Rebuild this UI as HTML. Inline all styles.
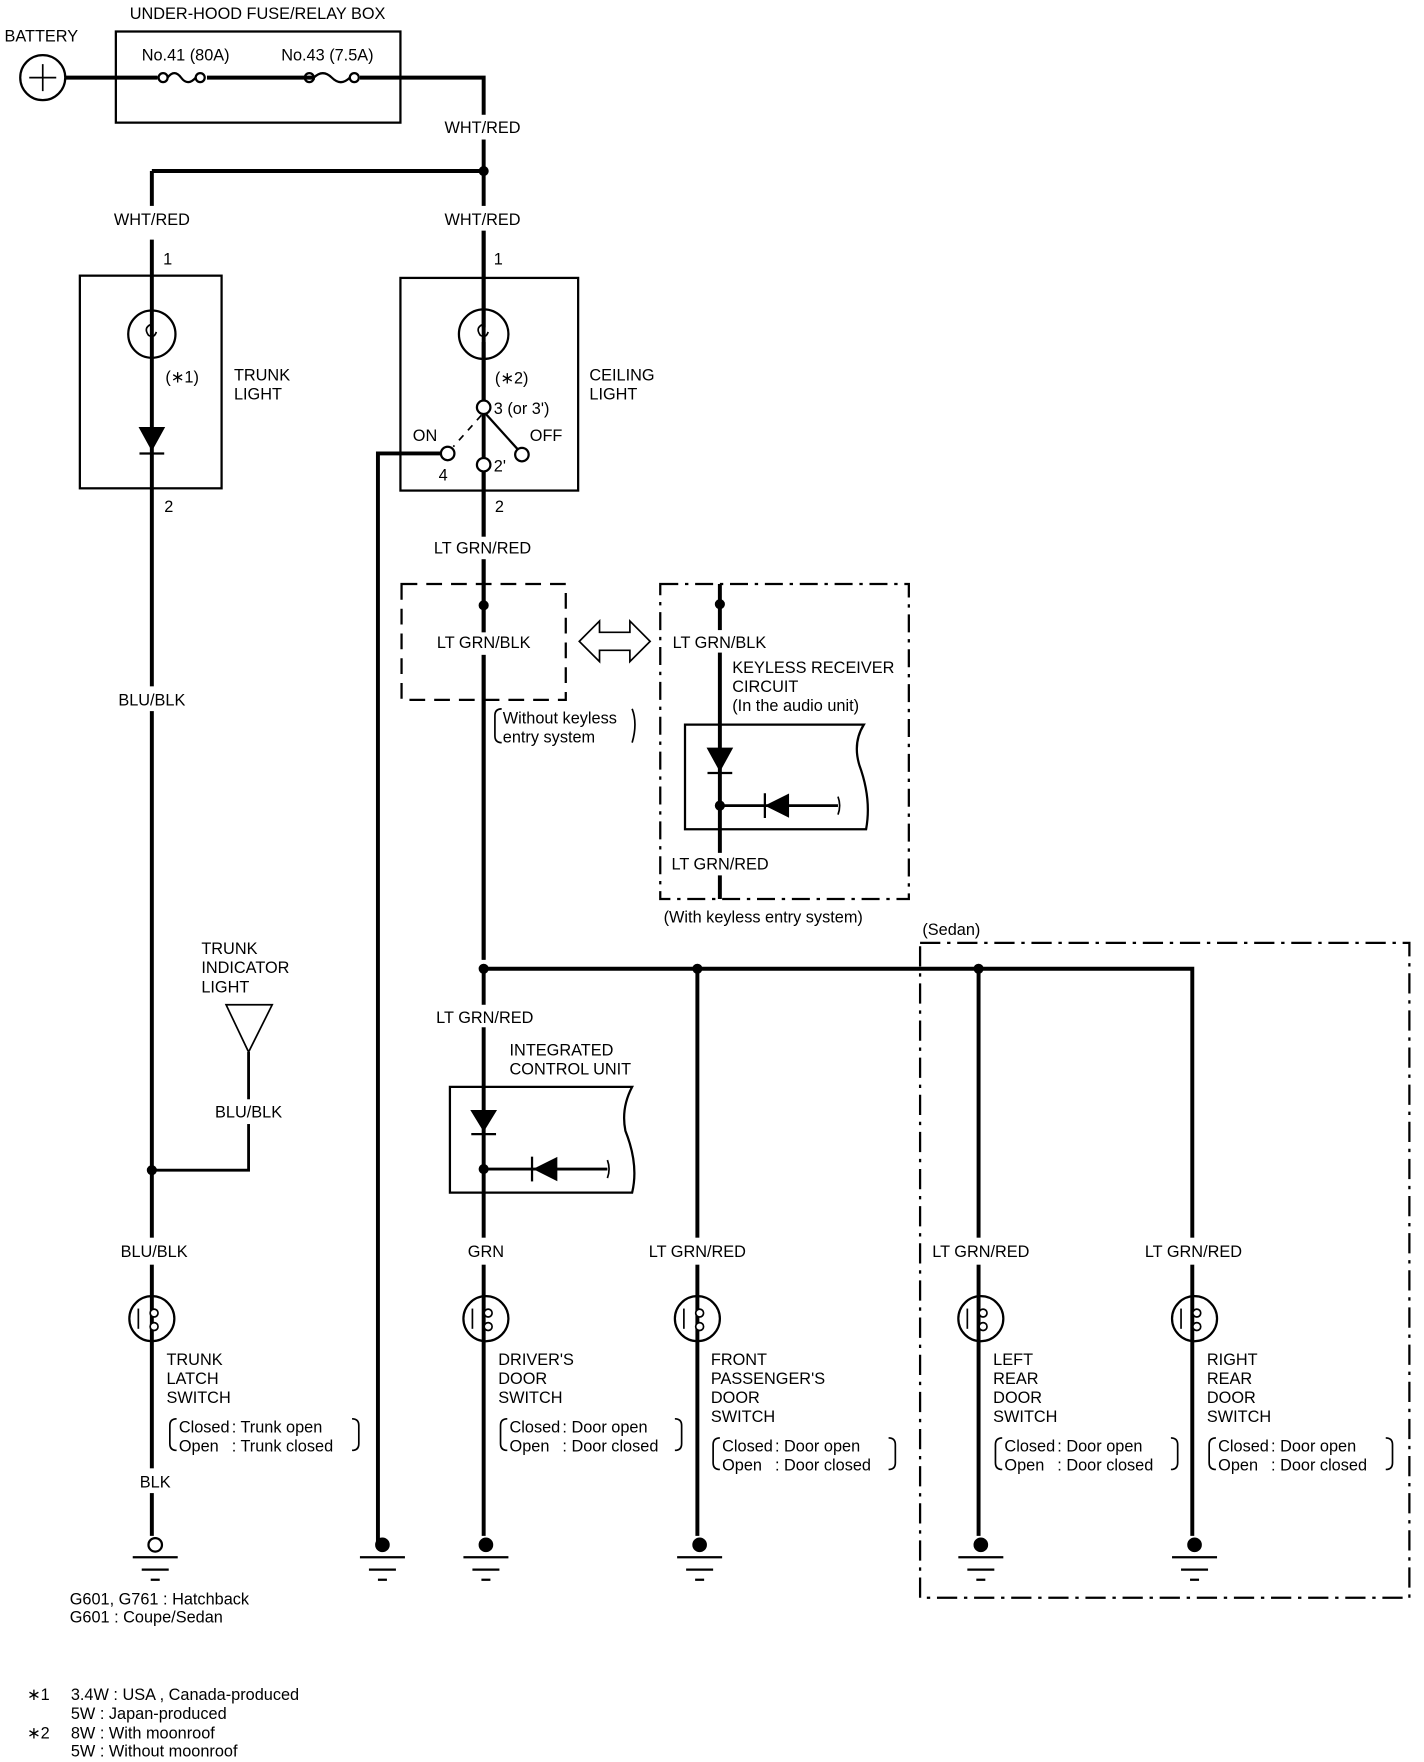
<!DOCTYPE html>
<html><head><meta charset="utf-8"><style>
html,body{margin:0;padding:0;background:#fff;}
svg{display:block;}
text{font-family:"Liberation Sans",sans-serif;font-size:14.5px;fill:#000;}
</style></head><body>
<svg width="1424" height="1762" viewBox="0 0 1266 1566" preserveAspectRatio="none" xmlns="http://www.w3.org/2000/svg">
<g stroke="#000" fill="none" stroke-width="2">
<circle cx="38" cy="69" r="20" stroke-width="2"/>
<path d="M26 69H50M38 57V81" stroke-width="1.5"/>
<rect x="103" y="28" width="253" height="81" stroke-width="2"/>
<path d="M58 69H140M184 69H280M320 69H430V853" stroke-width="3.5"/>
<circle cx="145" cy="69" r="4"/><circle cx="178" cy="69" r="4"/>
<path d="M149 69Q155 61 161 69T174 69"/>
<circle cx="275" cy="69" r="4"/><circle cx="315" cy="69" r="4"/>
<path d="M279 69Q287 61 295 69T311 69"/>
<path d="M135 152H430M135 152V200M135 213V1365" stroke-width="3.5"/>
<rect x="71" y="245" width="126" height="189" stroke-width="2"/>
<circle cx="135" cy="297" r="21"/>
<path d="M135 288q-8 3 -3 10q5 3 7 -3" stroke-width="1.5"/>
<rect x="356" y="247" width="158" height="189" stroke-width="2"/>
<path d="M430 200V291M430 304V356M430 418V853" stroke-width="3.5"/>
<circle cx="430" cy="297" r="22"/>
<path d="M430 288q-8 3 -3 10q5 3 7 -3" stroke-width="1.5"/>
<circle cx="430" cy="362" r="6" fill="#fff"/>
<circle cx="398" cy="403" r="6" fill="#fff"/>
<circle cx="430" cy="413" r="6" fill="#fff"/>
<circle cx="464" cy="404" r="6" fill="#fff"/>
<path d="M432 368L460 399"/>
<path d="M428 369L403 397M430 372V407" stroke-dasharray="6 6" stroke-width="1.5"/>
<path d="M392 403H336V1370" stroke-width="3.5"/>
<path d="M357 519H503V622H357Z" stroke-dasharray="14 8" stroke-width="2"/>
<path d="M515 570L533 552V562H560V552L578 570L560 588V578H533V588Z" stroke-width="1.5"/>
<path d="M587 519H808V799H587Z" stroke-dasharray="16 6 3 6" stroke-width="2"/>
<path d="M640 519V799" stroke-width="3.5"/>
<path d="M609 644H768Q758 660 764 680Q775 710 770 737H609Z" stroke-width="2"/>
<path d="M640 716H745" stroke-width="2.5"/>
<path d="M745 708q3 8 0 16" stroke-width="1.5"/>
<path d="M430 861H1060V1365M620 861V1365M870 861V1365" stroke-width="3.5"/>
<path d="M430 861V1365" stroke-width="3.5"/>
<path d="M818 838H1253V1420H818Z" stroke-dasharray="18 6 3 6" stroke-width="2"/>
<path d="M201 893H242L221 935Z" stroke-width="1.5"/>
<path d="M221 935V980M221 998V1040H135" stroke-width="2.5"/>
<path d="M400 966H562Q552 985 556 1005Q568 1035 562 1060H400Z" stroke-width="2"/>
<path d="M430 1039H540" stroke-width="2.5"/>
<path d="M540 1031q3 8 0 16" stroke-width="1.5"/>
<g stroke-width="2">
<circle cx="135" cy="1172" r="20"/><circle cx="432" cy="1172" r="20"/><circle cx="620" cy="1172" r="20"/><circle cx="872" cy="1172" r="20"/><circle cx="1062" cy="1172" r="20"/>
</g>
<g stroke-width="2">
<path d="M118 1384H158M126 1395H150M134 1404H142"/>
<path d="M320 1384H360M328 1395H352M336 1404H344"/>
<path d="M412 1384H452M420 1395H444M428 1404H436"/>
<path d="M602 1384H642M610 1395H634M618 1404H626"/>
<path d="M852 1384H892M860 1395H884M868 1404H876"/>
<path d="M1042 1384H1082M1050 1395H1074M1058 1404H1066"/>
</g>
<circle cx="138" cy="1373" r="6" fill="#fff"/>
</g>
<g fill="#fff">
<rect x="95" y="183" width="80" height="22"/>
<rect x="390" y="183" width="80" height="22"/>
<rect x="390" y="102" width="80" height="22"/>
<rect x="380" y="477" width="100" height="20"/>
<rect x="380" y="893" width="100" height="20"/>
<rect x="100" y="610" width="70" height="22"/>
<rect x="185" y="977" width="72" height="22"/>
<rect x="100" y="1100" width="75" height="24"/>
<rect x="410" y="1100" width="45" height="24"/>
<rect x="570" y="1100" width="100" height="24"/>
<rect x="822" y="1100" width="100" height="24"/>
<rect x="1012" y="1100" width="100" height="24"/>
<rect x="118" y="1305" width="40" height="22"/>
<rect x="395" y="562" width="72" height="20"/>
<rect x="595" y="560" width="92" height="20"/>
<rect x="595" y="758" width="95" height="20"/>
</g>
<g fill="#000" stroke="#000">
<path d="M124 380H146L135 400Z"/><path d="M124 403H146" stroke-width="2"/>
<path d="M629 665H651L640 685Z"/><path d="M629 687H651" stroke-width="2"/>
<path d="M701 706V726L681 716Z"/><path d="M680 705V727" stroke-width="2"/>
<path d="M419 987H441L430 1005Z"/><path d="M419 1008H441" stroke-width="2"/>
<path d="M495 1029V1049L475 1039Z"/><path d="M473 1028V1050" stroke-width="2"/>
<circle cx="430" cy="152" r="4"/><circle cx="430" cy="538" r="4"/><circle cx="640" cy="537" r="4"/>
<circle cx="640" cy="716" r="4"/><circle cx="430" cy="861" r="4"/><circle cx="620" cy="861" r="4"/><circle cx="870" cy="861" r="4"/>
<circle cx="430" cy="1039" r="4"/><circle cx="135" cy="1040" r="4"/>
<circle cx="340" cy="1373" r="6"/><circle cx="432" cy="1373" r="6"/><circle cx="622" cy="1373" r="6"/><circle cx="872" cy="1373" r="6"/><circle cx="1062" cy="1373" r="6"/>
</g>
<g stroke="#000" fill="#fff" stroke-width="1.5">
<path d="M123 1163V1181"/><circle cx="137" cy="1167" r="3.5"/><circle cx="137" cy="1179" r="3.5"/>
<path d="M420 1163V1181"/><circle cx="434" cy="1167" r="3.5"/><circle cx="434" cy="1179" r="3.5"/>
<path d="M608 1163V1181"/><circle cx="622" cy="1167" r="3.5"/><circle cx="622" cy="1179" r="3.5"/>
<path d="M860 1163V1181"/><circle cx="874" cy="1167" r="3.5"/><circle cx="874" cy="1179" r="3.5"/>
<path d="M1050 1163V1181"/><circle cx="1064" cy="1167" r="3.5"/><circle cx="1064" cy="1179" r="3.5"/>
</g>
<g>
<text x="229" y="17" text-anchor="middle">UNDER-HOOD FUSE/RELAY BOX</text>
<text x="4" y="37">BATTERY</text>
<text x="126" y="54" font-size="13.5">No.41 (80A)</text>
<text x="250" y="54" font-size="13.5">No.43 (7.5A)</text>
<text x="429" y="118" text-anchor="middle">WHT/RED</text>
<text x="135" y="200" text-anchor="middle">WHT/RED</text>
<text x="429" y="200" text-anchor="middle">WHT/RED</text>
<text x="145" y="235">1</text><text x="439" y="235">1</text>
<text x="147" y="340">(∗1)</text>
<text x="208" y="338">TRUNK</text><text x="208" y="355">LIGHT</text>
<text x="440" y="341">(∗2)</text>
<text x="524" y="338">CEILING</text><text x="524" y="355">LIGHT</text>
<text x="439" y="368" font-size="13.5">3 (or 3')</text>
<text x="367" y="392">ON</text><text x="471" y="392">OFF</text>
<text x="390" y="427">4</text><text x="439" y="419">2'</text>
<text x="146" y="455">2</text><text x="440" y="455">2</text>
<text x="429" y="492" text-anchor="middle">LT GRN/RED</text>
<text x="430" y="576" text-anchor="middle">LT GRN/BLK</text>
<text x="447" y="643" font-size="13.5">Without keyless</text>
<text x="447" y="660" font-size="13.5">entry system</text>
<path d="M446 630q-6 0 -6 6v18q0 6 6 6" stroke="#000" fill="none" stroke-width="1.5"/>
<path d="M562 630q5 13 0 30" stroke="#000" fill="none" stroke-width="1.5"/>
<text x="598" y="576">LT GRN/BLK</text>
<text x="651" y="598">KEYLESS RECEIVER</text>
<text x="651" y="615">CIRCUIT</text>
<text x="651" y="632" font-size="13">(In the audio unit)</text>
<text x="597" y="773">LT GRN/RED</text>
<text x="590" y="820" font-size="13.5">(With keyless entry system)</text>
<text x="820" y="831" font-size="13.5">(Sedan)</text>
<text x="135" y="627" text-anchor="middle">BLU/BLK</text>
<text x="179" y="848">TRUNK</text><text x="179" y="865">INDICATOR</text><text x="179" y="882">LIGHT</text>
<text x="221" y="993" text-anchor="middle">BLU/BLK</text>
<text x="431" y="909" text-anchor="middle">LT GRN/RED</text>
<text x="453" y="938">INTEGRATED</text><text x="453" y="955">CONTROL UNIT</text>
<text x="137" y="1117" text-anchor="middle">BLU/BLK</text>
<text x="432" y="1117" text-anchor="middle">GRN</text>
<text x="620" y="1117" text-anchor="middle">LT GRN/RED</text>
<text x="872" y="1117" text-anchor="middle">LT GRN/RED</text>
<text x="1061" y="1117" text-anchor="middle">LT GRN/RED</text>
<text x="148" y="1213">TRUNK</text><text x="148" y="1230">LATCH</text><text x="148" y="1247">SWITCH</text>
<text x="159" y="1273" font-size="13.5">Closed</text><text x="206" y="1273" font-size="13.5">: Trunk open</text>
<text x="159" y="1290" font-size="13.5">Open</text><text x="206" y="1290" font-size="13.5">: Trunk closed</text>
<text x="443" y="1213">DRIVER'S</text><text x="443" y="1230">DOOR</text><text x="443" y="1247">SWITCH</text>
<text x="453" y="1273" font-size="13.5">Closed</text><text x="500" y="1273" font-size="13.5">: Door open</text>
<text x="453" y="1290" font-size="13.5">Open</text><text x="500" y="1290" font-size="13.5">: Door closed</text>
<text x="632" y="1213">FRONT</text><text x="632" y="1230">PASSENGER'S</text><text x="632" y="1247">DOOR</text><text x="632" y="1264">SWITCH</text>
<text x="642" y="1290" font-size="13.5">Closed</text><text x="689" y="1290" font-size="13.5">: Door open</text>
<text x="642" y="1307" font-size="13.5">Open</text><text x="689" y="1307" font-size="13.5">: Door closed</text>
<text x="883" y="1213">LEFT</text><text x="883" y="1230">REAR</text><text x="883" y="1247">DOOR</text><text x="883" y="1264">SWITCH</text>
<text x="893" y="1290" font-size="13.5">Closed</text><text x="940" y="1290" font-size="13.5">: Door open</text>
<text x="893" y="1307" font-size="13.5">Open</text><text x="940" y="1307" font-size="13.5">: Door closed</text>
<text x="1073" y="1213">RIGHT</text><text x="1073" y="1230">REAR</text><text x="1073" y="1247">DOOR</text><text x="1073" y="1264">SWITCH</text>
<text x="1083" y="1290" font-size="13.5">Closed</text><text x="1130" y="1290" font-size="13.5">: Door open</text>
<text x="1083" y="1307" font-size="13.5">Open</text><text x="1130" y="1307" font-size="13.5">: Door closed</text>
<text x="138" y="1322" text-anchor="middle">BLK</text>
<text x="62" y="1426" font-size="13.5">G601, G761 : Hatchback</text>
<text x="62" y="1442" font-size="13.5">G601 : Coupe/Sedan</text>
<text x="24" y="1511" font-size="13.5">∗1</text>
<text x="63" y="1511" font-size="13.5">3.4W : USA , Canada-produced</text>
<text x="63" y="1528" font-size="13.5">5W : Japan-produced</text>
<text x="24" y="1545" font-size="13.5">∗2</text>
<text x="63" y="1545" font-size="13.5">8W : With moonroof</text>
<text x="63" y="1561" font-size="13.5">5W : Without moonroof</text>
</g>
<g stroke="#000" fill="none" stroke-width="1.5">
<path d="M157 1261q-6 0 -6 6v16q0 6 6 6"/><path d="M313 1261q6 0 6 6v16q0 6 -6 6"/>
<path d="M451 1261q-6 0 -6 6v16q0 6 6 6"/><path d="M600 1261q6 0 6 6v16q0 6 -6 6"/>
<path d="M640 1278q-6 0 -6 6v16q0 6 6 6"/><path d="M790 1278q6 0 6 6v16q0 6 -6 6"/>
<path d="M891 1278q-6 0 -6 6v16q0 6 6 6"/><path d="M1041 1278q6 0 6 6v16q0 6 -6 6"/>
<path d="M1081 1278q-6 0 -6 6v16q0 6 6 6"/><path d="M1232 1278q6 0 6 6v16q0 6 -6 6"/>
</g>
</svg>
</body></html>
